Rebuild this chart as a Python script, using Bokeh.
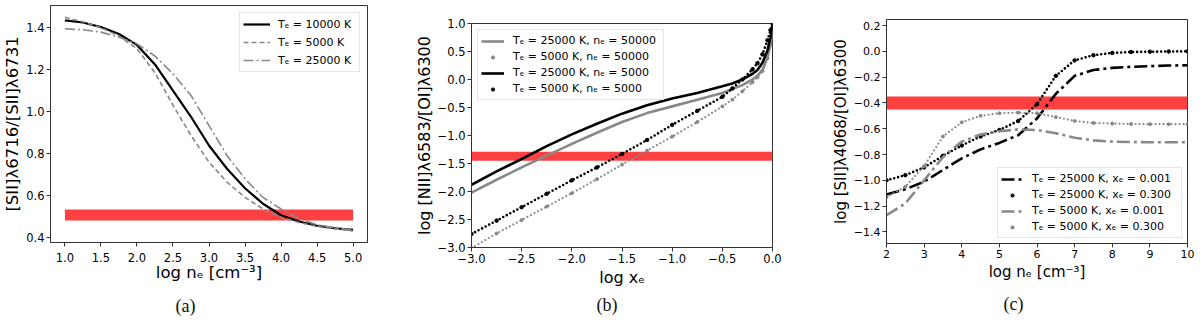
from bokeh.plotting import figure
from bokeh.layouts import row, column
from bokeh.models import Range1d, FixedTicker, Legend, LegendItem, Spacer
from bokeh.embed import file_html
from bokeh.resources import INLINE

# ---------------- panel (a) data ----------------
A_X = [1.0, 1.25, 1.5, 1.75, 2.0, 2.25, 2.5, 2.75, 3.0, 3.25, 3.5, 3.75, 4.0, 4.25, 4.5, 4.75, 5.0]
A_T10000 = [1.435, 1.425, 1.403, 1.37, 1.318, 1.225, 1.10, 0.975, 0.838, 0.727, 0.634, 0.56, 0.505, 0.475, 0.455, 0.443, 0.435]
A_T5000 = [1.45, 1.428, 1.40, 1.36, 1.30, 1.185, 1.03, 0.886, 0.758, 0.663, 0.59, 0.535, 0.495, 0.47, 0.452, 0.44, 0.43]
A_T25000 = [1.395, 1.39, 1.379, 1.355, 1.323, 1.265, 1.18, 1.077, 0.933, 0.79, 0.679, 0.59, 0.535, 0.49, 0.46, 0.445, 0.435]
A_BAND_X = [1.0, 5.0]
A_BAND_Y = [0.48, 0.532]
A_XTICKS = [1.0, 1.5, 2.0, 2.5, 3.0, 3.5, 4.0, 4.5, 5.0]
A_XLABELS = ["1.0", "1.5", "2.0", "2.5", "3.0", "3.5", "4.0", "4.5", "5.0"]
A_YTICKS = [0.4, 0.6, 0.8, 1.0, 1.2, 1.4]
A_YLABELS = ["0.4", "0.6", "0.8", "1.0", "1.2", "1.4"]
A_NAMES = ["Tₑ = 10000 K", "Tₑ = 5000 K", "Tₑ = 25000 K"]

# ---------------- panel (b) data ----------------
B_X = [-3.0, -2.75, -2.5, -2.25, -2.0, -1.75, -1.5, -1.25, -1.0, -0.75, -0.5, -0.4, -0.3, -0.2, -0.15, -0.1, -0.05, -0.02, 0.0]
B_T25_N50000 = [-2.02, -1.79, -1.57, -1.36, -1.15, -0.95, -0.76, -0.60, -0.48, -0.36, -0.24, -0.17, -0.10, 0.0, 0.07, 0.17, 0.40, 0.62, 0.85]
B_T5_N50000 = [-3.01, -2.75, -2.51, -2.27, -2.03, -1.78, -1.52, -1.27, -1.02, -0.76, -0.48, -0.36, -0.21, -0.05, 0.04, 0.15, 0.38, 0.62, 0.85]
B_T25_N5000 = [-1.88, -1.64, -1.42, -1.19, -0.98, -0.79, -0.61, -0.46, -0.34, -0.24, -0.12, -0.07, 0.0, 0.10, 0.17, 0.30, 0.52, 0.75, 1.0]
B_T5_N5000 = [-2.76, -2.52, -2.28, -2.04, -1.80, -1.57, -1.33, -1.08, -0.81, -0.56, -0.31, -0.16, 0.0, 0.18, 0.29, 0.45, 0.70, 0.88, 1.0]
B_BAND_X = [-3.0, 0.0]
B_BAND_Y = [-1.45, -1.29]
B_XTICKS = [-3.0, -2.5, -2.0, -1.5, -1.0, -0.5, 0.0]
B_XLABELS = ["−3.0", "−2.5", "−2.0", "−1.5", "−1.0", "−0.5", "0.0"]
B_YTICKS = [-3.0, -2.5, -2.0, -1.5, -1.0, -0.5, 0.0, 0.5, 1.0]
B_YLABELS = ["−3.0", "−2.5", "−2.0", "−1.5", "−1.0", "−0.5", "0.0", "0.5", "1.0"]
B_NAMES = ["Tₑ = 25000 K, nₑ = 50000", "Tₑ = 5000 K, nₑ = 50000",
           "Tₑ = 25000 K, nₑ = 5000", "Tₑ = 5000 K, nₑ = 5000"]

# ---------------- panel (c) data ----------------
C_X = [2.0, 2.5, 3.0, 3.5, 4.0, 4.5, 5.0, 5.5, 6.0, 6.5, 7.0, 7.5, 8.0, 8.5, 9.0, 9.5, 10.0]
C_T25_X001 = [-1.11, -1.07, -1.01, -0.92, -0.83, -0.76, -0.71, -0.65, -0.52, -0.33, -0.19, -0.145, -0.128, -0.12, -0.115, -0.11, -0.108]
C_T25_X300 = [-1.00, -0.96, -0.90, -0.81, -0.73, -0.66, -0.61, -0.54, -0.41, -0.19, -0.07, -0.03, -0.012, -0.005, -0.003, -0.001, 0.0]
C_T5_X001 = [-1.27, -1.18, -1.00, -0.82, -0.70, -0.645, -0.62, -0.605, -0.61, -0.635, -0.67, -0.69, -0.70, -0.703, -0.705, -0.705, -0.705]
C_T5_X300 = [-1.13, -1.05, -0.89, -0.66, -0.55, -0.50, -0.48, -0.475, -0.48, -0.51, -0.54, -0.555, -0.56, -0.563, -0.565, -0.565, -0.565]
C_BAND_X = [2.0, 10.0]
C_BAND_Y = [-0.45, -0.35]
C_XTICKS = [2, 3, 4, 5, 6, 7, 8, 9, 10]
C_XLABELS = ["2", "3", "4", "5", "6", "7", "8", "9", "10"]
C_YTICKS = [-1.4, -1.2, -1.0, -0.8, -0.6, -0.4, -0.2, 0.0, 0.2]
C_YLABELS = ["−1.4", "−1.2", "−1.0", "−0.8", "−0.6", "−0.4", "−0.2", "0.0", "0.2"]
C_NAMES = ["Tₑ = 25000 K, xₑ = 0.001", "Tₑ = 25000 K, xₑ = 0.300",
           "Tₑ = 5000 K, xₑ = 0.001", "Tₑ = 5000 K, xₑ = 0.300"]

BLACK = "#000000"
GRAY = "#888888"
BAND = "#ff4040"
FONT = "DejaVu Sans"


def make_fig(fw, fh, xr, yr, borders, xticks, xlabels, yticks, ylabels, xlab, ylab,
             tick_size, label_size, caption, cap_off, cap_standoff, tick_standoff, xlab_standoff):
    bl, br, bt, bb = borders
    p = figure(frame_width=fw, frame_height=fh, x_range=Range1d(*xr), y_range=Range1d(*yr),
               output_backend="svg", toolbar_location=None,
               min_border_left=bl, min_border_right=br, min_border_top=bt, min_border_bottom=bb,
               title_location="below")
    p.background_fill_color = "white"
    p.border_fill_color = "white"
    p.grid.visible = False
    p.outline_line_color = "#333333"
    p.outline_line_width = 1
    for ax, ticks, labels in ((p.xaxis[0], xticks, xlabels), (p.yaxis[0], yticks, ylabels)):
        ax.ticker = FixedTicker(ticks=ticks)
        ax.major_label_overrides = dict(zip(ticks, labels))
        ax.minor_tick_line_color = None
        ax.major_tick_in = 0
        ax.major_tick_out = 4
        ax.major_tick_line_color = "#333333"
        ax.axis_line_color = "#333333"
        ax.major_label_text_font = FONT
        ax.major_label_text_font_style = "normal"
        ax.major_label_text_font_size = tick_size
        ax.major_label_text_color = "#000000"
        ax.axis_label_text_font = FONT
        ax.axis_label_text_font_style = "normal"
        ax.axis_label_text_font_size = label_size
        ax.axis_label_text_color = "#000000"
    p.xaxis.major_label_standoff = tick_standoff
    p.xaxis.axis_label = xlab
    p.xaxis.axis_label_standoff = xlab_standoff
    p.yaxis.axis_label = ylab
    p.yaxis.major_label_standoff = 2
    p.yaxis.axis_label_standoff = 1
    p.title.text = caption
    p.title.align = "left"
    p.title.offset = cap_off
    p.title.vertical_align = "bottom"
    p.title.text_font = "Liberation Serif"
    p.title.text_font_style = "normal"
    p.title.text_font_size = "18px"
    p.title.text_color = "#111111"
    p.title.standoff = cap_standoff
    return p


def style_legend(lg, lh, spacing, padding, margin, gw, standoff, lw):
    lg.label_text_font = FONT
    lg.label_text_font_style = "normal"
    lg.label_text_font_size = "11px"
    lg.label_text_color = "#000000"
    lg.label_height = lh
    lg.label_width = lw
    lg.glyph_height = 8
    lg.glyph_width = gw
    lg.label_standoff = standoff
    lg.spacing = spacing
    lg.padding = padding
    lg.margin = margin
    lg.border_line_color = "#cccccc"
    lg.border_line_width = 1
    lg.background_fill_alpha = 0.85


# ---------------- panel (a) ----------------
pa = make_fig(317, 237, (0.8, 5.2), (0.375, 1.506), (50, 43, 5, 79),
              A_XTICKS, A_XLABELS, A_YTICKS, A_YLABELS,
              "log nₑ [cm⁻³]", "[SII]λ6716/[SII]λ6731", "11.5px", "16.5px", "(a)", 125, 18, 6, -2)
pa.quad(left=A_BAND_X[0], right=A_BAND_X[1], bottom=A_BAND_Y[0], top=A_BAND_Y[1],
        fill_color=BAND, line_color=None)
ra1 = pa.line(A_X, A_T10000, line_color=BLACK, line_width=2.2)
ra2 = pa.line(A_X, A_T5000, line_color=GRAY, line_width=1.6, line_dash="5 3")
ra3 = pa.line(A_X, A_T25000, line_color=GRAY, line_width=1.6, line_dash="10 3 2 3")
lga = Legend(items=[LegendItem(label=A_NAMES[0], renderers=[ra1]),
                    LegendItem(label=A_NAMES[1], renderers=[ra2]),
                    LegendItem(label=A_NAMES[2], renderers=[ra3])],
             location="top_right")
style_legend(lga, 16, 2, 3, 7, 27, 8, 78)
pa.add_layout(lga)

# ---------------- panel (b) ----------------
pb = make_fig(301, 224, (-3.0, 0.0), (-3.0, 1.0), (61, 56, 5, 74),
              B_XTICKS, B_XLABELS, B_YTICKS, B_YLABELS,
              "log xₑ", "log [NII]λ6583/[OI]λ6300", "11.5px", "16px", "(b)", 125, 6, 2, 2)
pb.quad(left=B_BAND_X[0], right=B_BAND_X[1], bottom=B_BAND_Y[0], top=B_BAND_Y[1],
        fill_color=BAND, line_color=None)
rb1 = pb.line(B_X, B_T25_N50000, line_color=GRAY, line_width=2.6)
pb.line(B_X, B_T5_N50000, line_color=GRAY, line_width=2.2, line_dash="0 4", line_cap="round")
rb2 = pb.scatter(B_X, B_T5_N50000, size=3, color=GRAY)
rb3 = pb.line(B_X, B_T25_N5000, line_color=BLACK, line_width=2.6)
pb.line(B_X, B_T5_N5000, line_color=BLACK, line_width=2.6, line_dash="0 4", line_cap="round")
rb4 = pb.scatter(B_X, B_T5_N5000, size=3.5, color=BLACK)
lgb = Legend(items=[LegendItem(label=B_NAMES[0], renderers=[rb1]),
                    LegendItem(label=B_NAMES[1], renderers=[rb2]),
                    LegendItem(label=B_NAMES[2], renderers=[rb3]),
                    LegendItem(label=B_NAMES[3], renderers=[rb4])],
             location="top_left")
style_legend(lgb, 15, 1, 3, 6, 23, 9, 147)
pb.add_layout(lgb)

# ---------------- panel (c) ----------------
pc = make_fig(301, 224, (2.0, 10.0), (-1.49, 0.247), (58, 12, 5, 78),
              C_XTICKS, C_XLABELS, C_YTICKS, C_YLABELS,
              "log nₑ [cm⁻³]", "log [SII]λ4068/[OI]λ6300", "11px", "15px", "(c)", 117, 16, 2, 2)
pc.quad(left=C_BAND_X[0], right=C_BAND_X[1], bottom=C_BAND_Y[0], top=C_BAND_Y[1],
        fill_color=BAND, line_color=None)
rc1 = pc.line(C_X, C_T25_X001, line_color=BLACK, line_width=2.6, line_dash="13 4 3 4")
pc.line(C_X, C_T25_X300, line_color=BLACK, line_width=2.6, line_dash="0 4", line_cap="round")
rc2 = pc.scatter(C_X, C_T25_X300, size=3.5, color=BLACK)
rc3 = pc.line(C_X, C_T5_X001, line_color=GRAY, line_width=2.6, line_dash="13 4 3 4")
pc.line(C_X, C_T5_X300, line_color=GRAY, line_width=2.2, line_dash="0 4", line_cap="round")
rc4 = pc.scatter(C_X, C_T5_X300, size=3, color=GRAY)
lgc = Legend(items=[LegendItem(label=C_NAMES[0], renderers=[rc1]),
                    LegendItem(label=C_NAMES[1], renderers=[rc2]),
                    LegendItem(label=C_NAMES[2], renderers=[rc3]),
                    LegendItem(label=C_NAMES[3], renderers=[rc4])],
             location="bottom_right")
style_legend(lgc, 15, 1, 3, 5, 22, 9, 146)
pc.add_layout(lgc)

layout = row(pa,
             column(Spacer(width=418, height=18), pb, spacing=0),
             column(Spacer(width=371, height=14), pc, spacing=0),
             spacing=0)
open("out.html", "w").write(file_html(layout, INLINE))
